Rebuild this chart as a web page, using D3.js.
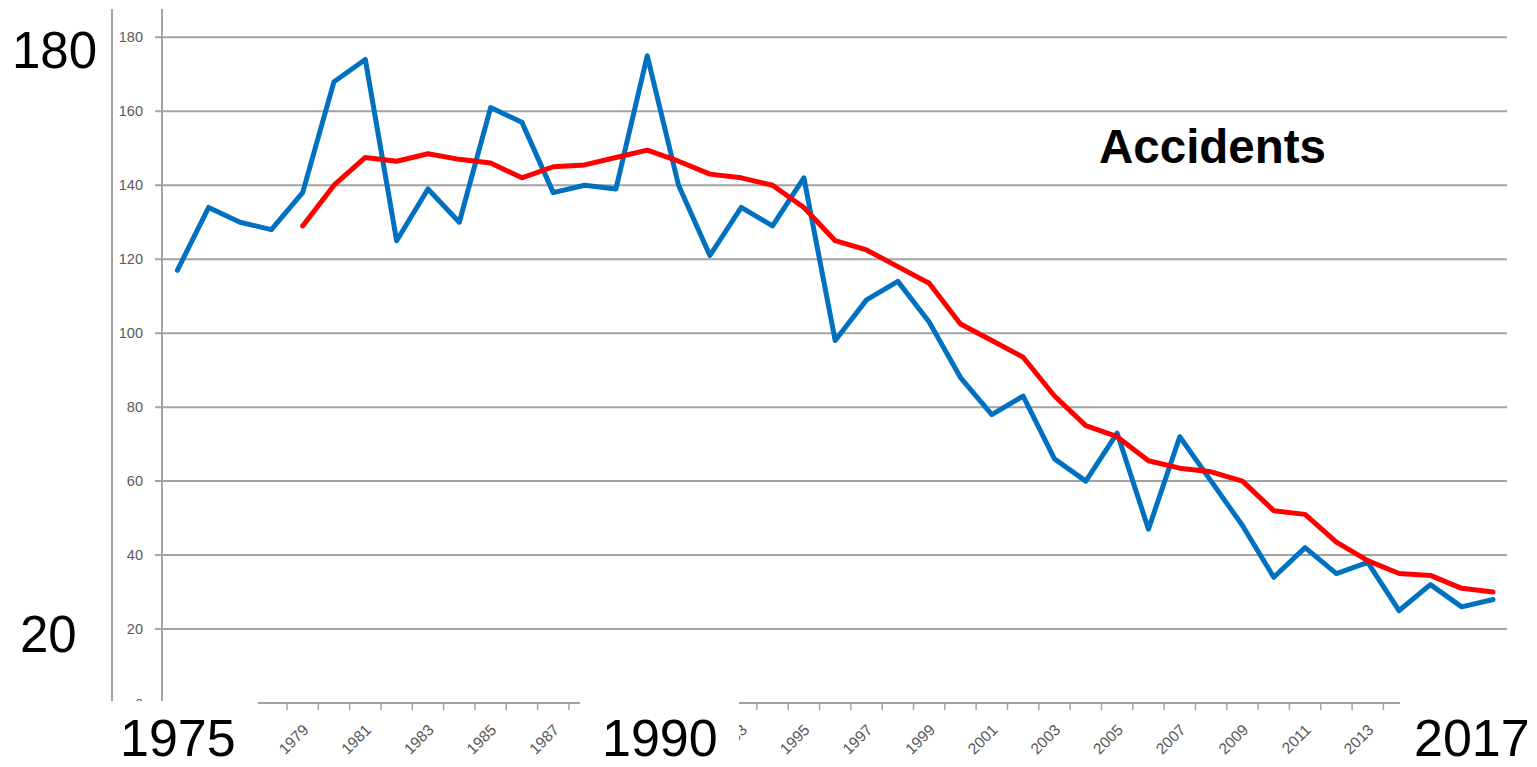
<!DOCTYPE html>
<html>
<head>
<meta charset="utf-8">
<script src="https://cdn.jsdelivr.net/npm/d3@7"></script>
<style>
  html, body { margin: 0; padding: 0; background: #fff; }
  svg { display: block; }
</style>
</head>
<body>
<svg id="chart" width="1537" height="767"></svg>
<script>
// ---- data ----
const years = d3.range(1975, 2018);
const accidents = [117,134,130,128,138,168,174,125,139,130,
                   161,157,138,140,139,175,140,121,134,129,
                   142,98,109,114,103,88,78,83,66,60,
                   73,47,72,60,48,34,42,35,38,25,
                   32,26,28];
const movingAvg = [null,null,null,null,
                   129,140,147.5,146.5,148.5,147,146,142,145,145.5,
                   147.5,149.5,146.5,143,142,140,134,125,122.5,118,
                   113.5,102.5,98,93.5,83,75,72,65.5,63.5,62.5,
                   60,52,51,43.5,38.5,35,34.5,31,30];
const yTicks = [0,20,40,60,80,100,120,140,160,180];
const xLabelYears = years.filter((y, i) => i % 2 === 0);
const overlayLabels = [
  {text: "180", x: 12, y: 68, size: 51},
  {text: "20", x: 20, y: 652, size: 51},
  {text: "1975", x: 120, y: 756, size: 52},
  {text: "1990", x: 602, y: 756, size: 52},
  {text: "2017", x: 1414, y: 756, size: 52}
];
const title = "Accidents";

// ---- drawing ----
const svg = d3.select("#chart");
const x = d3.scaleBand().domain(years).range([161.7, 1508.7]).padding(0);
const y = d3.scaleLinear().domain([0, 180]).range([703, 37.3]);
const cx = d => x(d) + x.bandwidth() / 2;
const grey = "#a3a3a3";

// clip for the partly covered y-axis labels
svg.append("defs").append("clipPath").attr("id", "ylabClip")
  .append("rect").attr("x", 0).attr("y", 0).attr("width", 160).attr("height", 701);

// gridlines (with outside tick stubs)
svg.append("g").selectAll("line").data(yTicks.filter(d => d > 0)).join("line")
  .attr("x1", 155).attr("x2", 1507)
  .attr("y1", d => y(d)).attr("y2", d => y(d))
  .attr("stroke", grey).attr("stroke-width", 2);

// y tick labels
svg.append("g").attr("clip-path", "url(#ylabClip)")
  .selectAll("text").data(yTicks).join("text")
  .attr("x", 143).attr("y", d => y(d)).attr("dy", "0.35em")
  .attr("text-anchor", "end")
  .attr("font-family", "Liberation Sans, Arial, sans-serif")
  .attr("font-size", d => d === 0 ? 13 : 14.5).attr("fill", "#595959")
  .text(d => d);

// vertical axis lines
svg.append("line").attr("x1", 162).attr("x2", 162).attr("y1", 9).attr("y2", 703)
  .attr("stroke", grey).attr("stroke-width", 2);
svg.append("line").attr("x1", 112).attr("x2", 112).attr("y1", 9).attr("y2", 703)
  .attr("stroke", grey).attr("stroke-width", 2);

// x axis line and ticks at category boundaries
svg.append("line").attr("x1", 161.7).attr("x2", 1508.7).attr("y1", 703).attr("y2", 703)
  .attr("stroke", grey).attr("stroke-width", 2);
const bounds = years.map(d => x(d)).concat([x(years[years.length-1]) + x.bandwidth()]);
svg.append("g").selectAll("line").data(bounds).join("line")
  .attr("x1", d => d).attr("x2", d => d).attr("y1", 703).attr("y2", 710)
  .attr("stroke", grey).attr("stroke-width", 1.5);

// x tick labels, rotated
svg.append("g").selectAll("text").data(xLabelYears).join("text")
  .attr("transform", d => `translate(${cx(d) + 3},${727}) rotate(-45)`)
  .attr("text-anchor", "end").attr("dy", "0.35em")
  .attr("font-family", "Liberation Sans, Arial, sans-serif")
  .attr("font-size", 15.5).attr("fill", "#595959")
  .text(d => d);

// series lines
const lineGen = d3.line()
  .defined(d => d[1] != null)
  .x(d => cx(d[0])).y(d => y(d[1]));
svg.append("path")
  .datum(years.map((yr, i) => [yr, accidents[i]]))
  .attr("d", lineGen).attr("fill", "none")
  .attr("stroke", "#0070C0").attr("stroke-width", 5)
  .attr("stroke-linejoin", "round").attr("stroke-linecap", "round");
svg.append("path")
  .datum(years.map((yr, i) => [yr, movingAvg[i]]))
  .attr("d", lineGen).attr("fill", "none")
  .attr("stroke", "#FF0000").attr("stroke-width", 5)
  .attr("stroke-linejoin", "round").attr("stroke-linecap", "round");

// white cover patches (as in the reference composite)
const patches = [[0, 258], [580, 739], [1400, 1537]];
svg.append("g").selectAll("rect").data(patches).join("rect")
  .attr("x", d => d[0]).attr("width", d => d[1] - d[0])
  .attr("y", 701).attr("height", 66).attr("fill", "#fff");

// big overlay labels
svg.append("g").selectAll("text").data(overlayLabels).join("text")
  .attr("x", d => d.x).attr("y", d => d.y)
  .attr("font-family", "Liberation Sans, Arial, sans-serif")
  .attr("font-size", d => d.size).attr("fill", "#000")
  .text(d => d.text);

// title
svg.append("text").attr("x", 1099).attr("y", 163)
  .attr("font-family", "Liberation Sans, Arial, sans-serif")
  .attr("font-weight", "bold").attr("font-size", 47.5).attr("fill", "#000")
  .text(title);
</script>
</body>
</html>
